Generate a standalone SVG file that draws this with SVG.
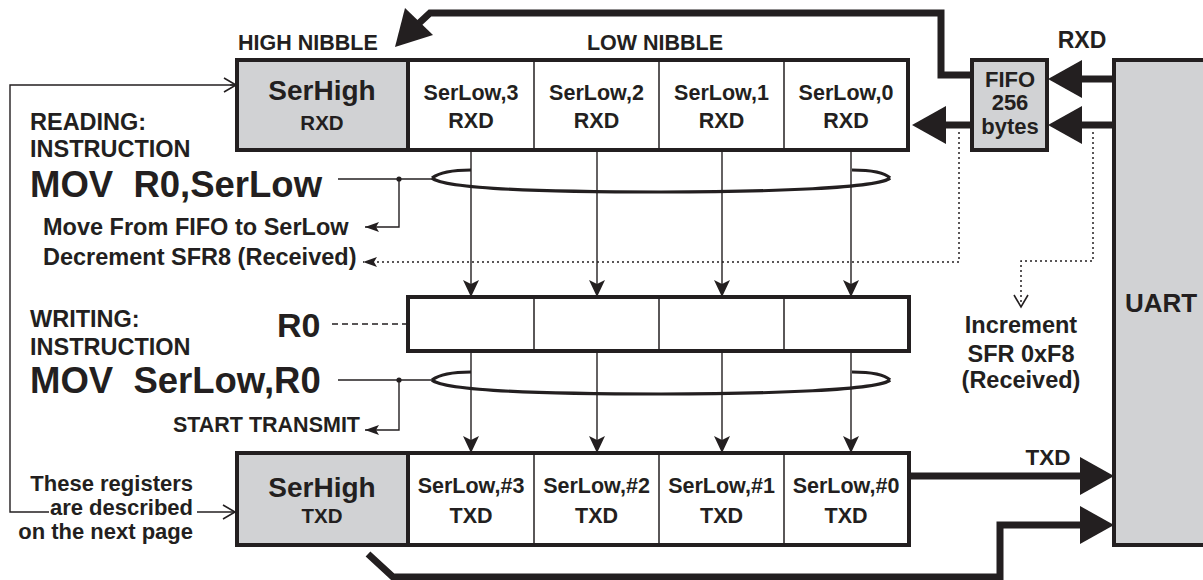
<svg xmlns="http://www.w3.org/2000/svg" width="1203" height="580" viewBox="0 0 1203 580">
<style>
text{font-family:"Liberation Sans",Arial,sans-serif;font-weight:bold;fill:#231f20}
.box{stroke:#231f20;stroke-width:4;fill:#fff}
.gray{fill:#d1d2d4}
.div{stroke:#231f20;stroke-width:1.5;fill:none}
.thin{stroke:#231f20;stroke-width:1.4;fill:none}
.thick{stroke:#231f20;stroke-width:7;fill:none}
.loop{stroke:#231f20;stroke-width:3.2;fill:none}
.dot{stroke:#231f20;stroke-width:1.5;fill:none;stroke-dasharray:2 3}
.dash{stroke:#231f20;stroke-width:1.3;fill:none;stroke-dasharray:6 4}
.head{fill:#231f20}
.c{text-anchor:middle}
.e{text-anchor:end}
.f21{font-size:21.5px}
.f23{font-size:23.5px}
.f36{font-size:36.5px}
</style>
<defs>
<marker id="ar" markerUnits="userSpaceOnUse" viewBox="0 -9 18 18" markerWidth="18" markerHeight="18" refX="17" refY="0" orient="auto">
<path d="M0,-8 L17,0 L0,8 L4,0 Z" fill="#231f20"/>
</marker>
<marker id="sm" markerUnits="userSpaceOnUse" viewBox="0 -6 15 12" markerWidth="15" markerHeight="12" refX="14" refY="0" orient="auto">
<path d="M0,-5 L14,0 L0,5 L3,0 Z" fill="#231f20"/>
</marker>
<marker id="ch" markerUnits="userSpaceOnUse" viewBox="-1 -8 15 16" markerWidth="15" markerHeight="16" refX="12" refY="0" orient="auto">
<path d="M0,-7 L12,0 L0,7" fill="none" stroke="#231f20" stroke-width="1.6"/>
</marker>
</defs>

<g id="labels">
<text class="f21" x="238" y="50">HIGH NIBBLE</text>
<text class="f21 c" x="655" y="50">LOW NIBBLE</text>
<text class="c" x="1082" y="48" font-size="23">RXD</text>
<text class="f23" x="30" y="130">READING:</text>
<text class="f23" x="30" y="157">INSTRUCTION</text>
<text class="f36" x="30" y="197" xml:space="preserve">MOV  R0,SerLow</text>
<text class="f23" x="43" y="235">Move From FIFO to SerLow</text>
<text class="f23" x="43" y="265">Decrement SFR8 (Received)</text>
<text class="f23" x="30" y="327">WRITING:</text>
<text class="f23" x="30" y="355">INSTRUCTION</text>
<text x="277" y="337" font-size="34">R0</text>
<text class="f36" x="30" y="393" xml:space="preserve">MOV  SerLow,R0</text>
<text class="e" x="360" y="432" font-size="21.5">START TRANSMIT</text>
<text class="e" x="193" y="491" font-size="22">These registers</text>
<text class="e" x="193" y="515" font-size="22">are described</text>
<text class="e" x="193" y="539" font-size="22">on the next page</text>
<text class="c" x="1048" y="465" font-size="22.5">TXD</text>
<text class="f23 c" x="1021" y="333">Increment</text>
<text class="f23 c" x="1021" y="362">SFR 0xF8</text>
<text class="f23 c" x="1021" y="388">(Received)</text>
</g>

<g id="reg-rx">
<rect class="box" x="237" y="60" width="671" height="90"/>
<rect class="gray" x="239" y="62" width="169" height="86"/>
<line class="box" x1="408" y1="60" x2="408" y2="150"/>
<line class="div" x1="534" y1="60" x2="534" y2="150"/>
<line class="div" x1="659" y1="60" x2="659" y2="150"/>
<line class="div" x1="784" y1="60" x2="784" y2="150"/>
<text class="c" x="322" y="100" font-size="28">SerHigh</text>
<text class="c" x="322" y="130" font-size="20.5">RXD</text>
<text class="f21 c" x="471" y="100">SerLow,3</text>
<text class="f21 c" x="471" y="128">RXD</text>
<text class="f21 c" x="596.5" y="100">SerLow,2</text>
<text class="f21 c" x="596.5" y="128">RXD</text>
<text class="f21 c" x="721.5" y="100">SerLow,1</text>
<text class="f21 c" x="721.5" y="128">RXD</text>
<text class="f21 c" x="846" y="100">SerLow,0</text>
<text class="f21 c" x="846" y="128">RXD</text>
</g>

<g id="reg-r0">
<rect class="box" x="408" y="297" width="501" height="54"/>
<line class="div" x1="534" y1="297" x2="534" y2="351"/>
<line class="div" x1="659" y1="297" x2="659" y2="351"/>
<line class="div" x1="784" y1="297" x2="784" y2="351"/>
</g>

<g id="reg-tx">
<rect class="box" x="237" y="453" width="672" height="92"/>
<rect class="gray" x="239" y="455" width="169" height="88"/>
<line class="box" x1="408" y1="453" x2="408" y2="545"/>
<line class="div" x1="534" y1="453" x2="534" y2="545"/>
<line class="div" x1="659" y1="453" x2="659" y2="545"/>
<line class="div" x1="784" y1="453" x2="784" y2="545"/>
<text class="c" x="322" y="497" font-size="28">SerHigh</text>
<text class="c" x="322" y="523" font-size="20.5">TXD</text>
<text class="f21 c" x="471" y="493">SerLow,#3</text>
<text class="f21 c" x="471" y="523">TXD</text>
<text class="f21 c" x="596.5" y="493">SerLow,#2</text>
<text class="f21 c" x="596.5" y="523">TXD</text>
<text class="f21 c" x="721.5" y="493">SerLow,#1</text>
<text class="f21 c" x="721.5" y="523">TXD</text>
<text class="f21 c" x="846" y="493">SerLow,#0</text>
<text class="f21 c" x="846" y="523">TXD</text>
</g>

<g id="fifo">
<rect class="box gray" x="972" y="60" width="75" height="90" stroke-width="3.5"/>
<text class="c" x="1010" y="87" font-size="22">FIFO</text>
<text class="c" x="1010" y="110" font-size="22">256</text>
<text class="c" x="1010" y="134" font-size="22">bytes</text>
</g>

<g id="uart">
<rect class="box gray" x="1114" y="60" width="100" height="485"/>
<text x="1125" y="312" font-size="26">UART</text>
</g>

<g id="connectors">
<line class="thin" x1="471" y1="150" x2="471" y2="297" marker-end="url(#ar)"/>
<line class="thin" x1="597" y1="150" x2="597" y2="297" marker-end="url(#ar)"/>
<line class="thin" x1="722" y1="150" x2="722" y2="297" marker-end="url(#ar)"/>
<line class="thin" x1="851" y1="150" x2="851" y2="297" marker-end="url(#ar)"/>
<line class="thin" x1="471" y1="351" x2="471" y2="453" marker-end="url(#ar)"/>
<line class="thin" x1="597" y1="351" x2="597" y2="453" marker-end="url(#ar)"/>
<line class="thin" x1="722" y1="351" x2="722" y2="453" marker-end="url(#ar)"/>
<line class="thin" x1="851" y1="351" x2="851" y2="453" marker-end="url(#ar)"/>
<path class="loop" d="M432,178 C445,190 560,192 661,192 C770,192 880,188 890,178"/>
<path class="loop" d="M432,178 C440,172 455,170 471,170"/>
<path class="loop" d="M890,178 C884,172 868,170 852,170"/>
<path class="loop" d="M432,380 C445,392 560,394 661,394 C770,394 880,390 890,380"/>
<path class="loop" d="M432,380 C440,374 455,372 471,372"/>
<path class="loop" d="M890,380 C884,374 868,372 852,372"/>
<line class="thin" x1="338" y1="179" x2="432" y2="179"/>
<circle cx="399" cy="179" r="2.6" class="head"/>
<path class="thin" d="M399,179 V227 H365" marker-end="url(#sm)"/>
<line class="thin" x1="338" y1="380" x2="432" y2="380"/>
<circle cx="399" cy="380" r="2.6" class="head"/>
<path class="thin" d="M399,380 V430 H365" marker-end="url(#sm)"/>
<line class="dash" x1="332" y1="324" x2="408" y2="324"/>
<path class="dot" d="M959,132 V262 H363" marker-end="url(#sm)"/>
<path class="dot" d="M1093,132 V261 H1021 V307" marker-end="url(#ch)"/>
<path class="thin" d="M236,85 H10 V512 H49"/>
<line class="thin" x1="230" y1="85" x2="236" y2="85" marker-end="url(#ch)"/>
<line class="thin" x1="197" y1="512" x2="235" y2="512" marker-end="url(#ch)"/>
<line class="thick" x1="1114" y1="79" x2="1080" y2="79"/>
<polygon class="head" points="1048,79 1082,60 1082,98"/>
<line class="thick" x1="1114" y1="125" x2="1080" y2="125"/>
<polygon class="head" points="1048,125 1082,106 1082,144"/>
<line class="thick" x1="972" y1="125" x2="944" y2="125"/>
<polygon class="head" points="912,125 946,106 946,144"/>
<path class="thick" d="M972,75 H941 V13 H430 L416,26"/>
<polygon class="head" points="395,47 405,8 433,35"/>
<line class="thick" x1="909" y1="476" x2="1082" y2="476"/>
<polygon class="head" points="1114,476 1080,457 1080,495"/>
<path class="thick" d="M368,554 L393,577 H1000 V525 H1082"/>
<polygon class="head" points="1114,525 1080,506 1080,544"/>
</g>
</svg>
